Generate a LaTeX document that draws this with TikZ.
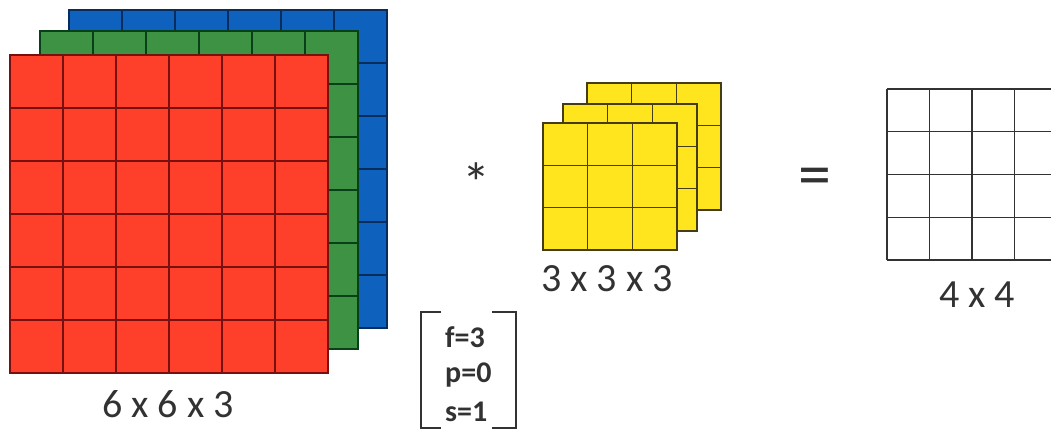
\documentclass[tikz,border=0pt]{standalone}
\usepackage{fontspec}
\usepackage{xcolor}
\setmainfont{Carlito}
\definecolor{redface}{RGB}{254,64,42}
\definecolor{redline}{RGB}{120,16,16}
\definecolor{greenface}{RGB}{62,146,68}
\definecolor{greenline}{RGB}{8,64,24}
\definecolor{blueface}{RGB}{14,98,190}
\definecolor{blueline}{RGB}{8,44,92}
\definecolor{yellowface}{RGB}{255,229,30}
\definecolor{yellowline}{RGB}{70,60,20}
\definecolor{inkgray}{RGB}{50,50,50}
\tikzset{
  sizelabel/.style={text=inkgray, font=\fontsize{40}{44}\selectfont, inner sep=0pt},
  paramlabel/.style={text=inkgray, anchor=west, font=\fontsize{30}{34}\selectfont\bfseries, inner sep=0pt},
}

\begin{document}
\begin{tikzpicture}[x=1pt, y=-1pt]
    \useasboundingbox (0,0) rectangle (1051,430);

    % Input volume, back to front
    \foreach \px/\py/\layerface/\layerline in {69/10/blueface/blueline, 40/31/greenface/greenline, 10/55/redface/redline} {
        \draw[fill=\layerface, draw=\layerline, line width=1.6pt] (\px,\py) rectangle ++(318,318);
        \foreach \i in {1,...,5} {
            \draw[\layerline, line width=1.6pt] ({\px+53*\i},\py) -- ++(0,318);
            \draw[\layerline, line width=1.6pt] (\px,{\py+53*\i}) -- ++(318,0);
        }
    }
    \node[sizelabel] (inputsize) at (168,404) {6 x 6 x 3};

    % Operator
    \node[text=inkgray, font=\fontsize{56}{60}\selectfont, inner sep=0pt] (star) at (476,183) {*};

    % Filter volume, back to front
    \foreach \px/\py in {587/83, 563/104, 543/123} {
        \draw[fill=yellowface, draw=yellowline, line width=1.5pt] (\px,\py) rectangle ++(134,127);
        \foreach \i in {1,2} {
            \draw[yellowline, line width=1.5pt] ({\px+44.7*\i},\py) -- ++(0,127);
            \draw[yellowline, line width=1.5pt] (\px,{\py+42.3*\i}) -- ++(134,0);
        }
    }
    \node[sizelabel] (filtersize) at (607,279) {3 x 3 x 3};

    % Parameters
    \draw[inkgray, line width=1.4pt] (441,312) -- (421,312) -- (421,428) -- (441,428);
    \draw[inkgray, line width=1.4pt] (492,312) -- (516,312) -- (516,428) -- (492,428);
    \node[paramlabel] (fparam) at (445,337) {f=3};
    \node[paramlabel] (pparam) at (445,375) {p=0};
    \node[paramlabel] (sparam) at (445,412) {s=1};

    % Result
    \node[text=inkgray, font=\fontsize{66}{70}\selectfont, inner sep=0pt] (equals) at (815,182) {=};
    \foreach \i in {0,...,4} {
        \draw[inkgray, line width=1.2pt] (887,{89+42.75*\i}) -- (1051,{89+42.75*\i});
    }
    \foreach \i in {0,...,3} {
        \draw[inkgray, line width=1.2pt] ({887+42.5*\i},89) -- ({887+42.5*\i},260);
    }
    \node[sizelabel] (outputsize) at (977,295) {4 x 4};
\end{tikzpicture}
\end{document}
